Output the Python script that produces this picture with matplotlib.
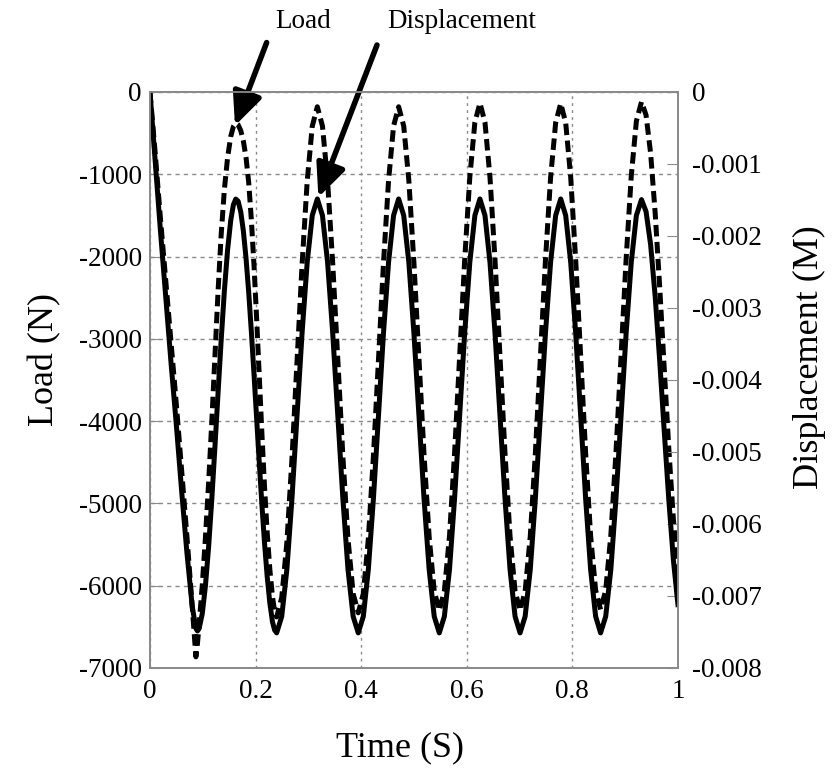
import matplotlib
matplotlib.use("Agg")
import matplotlib.pyplot as plt

plt.rcParams['font.family'] = ['Liberation Serif', 'DejaVu Serif']
plt.rcParams['axes.unicode_minus'] = False

# Time (S) - shared by both curves
time_s = [0, 0.01, 0.02, 0.03, 0.04, 0.05, 0.06, 0.07, 0.08, 0.087,
          0.090, 0.093, 0.099, 0.105, 0.111, 0.117, 0.123, 0.129, 0.135, 0.141,
          0.147, 0.153, 0.158, 0.1625, 0.167, 0.172, 0.177, 0.182, 0.187, 0.192,
          0.197, 0.202, 0.207, 0.212, 0.217, 0.222, 0.227, 0.232, 0.236, 0.240,
          0.2496, 0.2593, 0.2689, 0.2785, 0.2881, 0.2978, 0.3074, 0.317,
          0.3267, 0.3364, 0.3461, 0.3558, 0.3654, 0.3751, 0.3848, 0.3945,
          0.4041, 0.4136, 0.4232, 0.4328, 0.4423, 0.4519, 0.4614, 0.471,
          0.4806, 0.4903, 0.4999, 0.5095, 0.5191, 0.5288, 0.5384, 0.548,
          0.5576, 0.5673, 0.5769, 0.5865, 0.5961, 0.6058, 0.6154, 0.625,
          0.6345, 0.644, 0.6535, 0.663, 0.6725, 0.682, 0.6915, 0.701,
          0.7106, 0.7203, 0.7299, 0.7395, 0.7491, 0.7588, 0.7684, 0.778,
          0.7874, 0.7969, 0.8063, 0.8158, 0.8252, 0.8346, 0.8441, 0.8535,
          0.8632, 0.8729, 0.8826, 0.8923, 0.9019, 0.9116, 0.9213, 0.931,
          0.9396, 0.9483, 0.9569, 0.9655, 0.9741, 0.9828, 0.9914, 1.0]

# Load (N) - dashed, left axis
load_n = [0, -750, -1550, -2300, -3050, -3800, -4600, -5400, -6250, -6865,
          -6700, -6480, -6000, -5420, -4760, -4020, -3220, -2420, -1720, -1180,
          -800, -540, -420, -380, -400, -470, -600, -800, -1100, -1550,
          -2100, -2750, -3450, -4150, -4800, -5350, -5800, -6130, -6310, -6380,
          -6144, -5475, -4464, -3280, -2096, -1085, -416, -180,
          -414, -1078, -2080, -3255, -4430, -5432, -6096, -6330,
          -6096, -5432, -4430, -3255, -2080, -1078, -414, -180,
          -413, -1074, -2071, -3240, -4409, -5406, -6067, -6300,
          -6066, -5400, -4395, -3218, -2040, -1035, -369, -135,
          -369, -1035, -2040, -3218, -4395, -5400, -6066, -6300,
          -6066, -5401, -4397, -3220, -2043, -1039, -374, -140,
          -374, -1038, -2040, -3215, -4390, -5392, -6056, -6290,
          -6056, -5389, -4383, -3205, -2027, -1021, -354, -120,
          -281, -748, -1471, -2375, -3366, -4341, -5196, -5845]

# Displacement (M) - solid, right axis
disp_m = [0, -0.000971, -0.001943, -0.002857, -0.003771, -0.004629, -0.005543, -0.0064, -0.007143, -0.007451,
          -0.007486, -0.007455, -0.007249, -0.006865, -0.006327, -0.005671, -0.004937, -0.004175, -0.003431, -0.002755,
          -0.002194, -0.001782, -0.001567, -0.001488, -0.001517, -0.001667, -0.001937, -0.002314, -0.002782, -0.003325,
          -0.003915, -0.00453, -0.005144, -0.00573, -0.006267, -0.006728, -0.007096, -0.007357, -0.007473, -0.007513,
          -0.007284, -0.006633, -0.005651, -0.0045, -0.003348, -0.002366, -0.001715, -0.001486,
          -0.001715, -0.002366, -0.003348, -0.0045, -0.005651, -0.006633, -0.007284, -0.007513,
          -0.007284, -0.006633, -0.005651, -0.0045, -0.003348, -0.002366, -0.001715, -0.001486,
          -0.001715, -0.002366, -0.003348, -0.0045, -0.005651, -0.006633, -0.007284, -0.007513,
          -0.007284, -0.006633, -0.005651, -0.0045, -0.003348, -0.002366, -0.001715, -0.001486,
          -0.001715, -0.002366, -0.003348, -0.0045, -0.005651, -0.006633, -0.007284, -0.007513,
          -0.007284, -0.006633, -0.005651, -0.0045, -0.003348, -0.002366, -0.001715, -0.001486,
          -0.001715, -0.002366, -0.003348, -0.0045, -0.005651, -0.006633, -0.007284, -0.007513,
          -0.007284, -0.006633, -0.005651, -0.0045, -0.003348, -0.002366, -0.001715, -0.001495,
          -0.00166, -0.002124, -0.002842, -0.003738, -0.004717, -0.005674, -0.006503, -0.00712]

x_ticks = [0, 0.2, 0.4, 0.6, 0.8, 1]
x_labels = ['0', '0.2', '0.4', '0.6', '0.8', '1']
load_ticks = [0, -1000, -2000, -3000, -4000, -5000, -6000, -7000]
load_labels = ['0', '-1000', '-2000', '-3000', '-4000', '-5000', '-6000', '-7000']
disp_ticks = [0, -0.001, -0.002, -0.003, -0.004, -0.005, -0.006, -0.007, -0.008]
disp_labels = ['0', '-0.001', '-0.002', '-0.003', '-0.004', '-0.005', '-0.006', '-0.007', '-0.008']

fig = plt.figure(figsize=(8.35, 7.74), dpi=100)
ax = fig.add_axes([0.1796, 0.1370, 0.6323, 0.7442])
ax2 = ax.twinx()

ax.plot(time_s, load_n, color='black', lw=3.6, linestyle=(0, (2.3, 1.1)))
ax2.plot(time_s, disp_m, color='black', lw=3.6, solid_joinstyle='round')

ax.set_xlim(0, 1)
ax.set_ylim(-7000, 0)
ax2.set_ylim(-0.008, 0)

ax.set_xticks(x_ticks)
ax.set_xticklabels(x_labels)
ax.set_yticks(load_ticks)
ax.set_yticklabels(load_labels)
ax2.set_yticks(disp_ticks)
ax2.set_yticklabels(disp_labels)

grey = '#8a8a8a'
ax.xaxis.grid(True, color=grey, lw=1, linestyle=(0, (2, 3)))
ax.yaxis.grid(True, color=grey, lw=1, linestyle=(0, (3, 3)))
ax.set_axisbelow(True)

for a in (ax, ax2):
    for s in a.spines.values():
        s.set_color(grey)
        s.set_linewidth(1.3)

ax.tick_params(axis='x', length=0, pad=8, labelsize=19.5)
ax.tick_params(axis='y', direction='in', length=7, color=grey, pad=6, labelsize=19.5)
ax2.tick_params(axis='y', direction='in', length=8, color=grey, pad=10, labelsize=19.5)

fig.text(0.479, 0.034, 'Time (S)', ha='center', va='center', fontsize=26)
fig.text(0.054, 0.535, 'Load (N)', ha='center', va='center', rotation=90, fontsize=26)
fig.text(0.970, 0.539, 'Displacement (M)', ha='center', va='center', rotation=90, fontsize=26)

# callouts
fig.text(0.363, 0.972, 'Load', ha='center', va='center', fontsize=19.5)
fig.text(0.553, 0.972, 'Displacement', ha='center', va='center', fontsize=19.5)
arrow = dict(arrowstyle='-|>,head_length=0.8,head_width=0.36', color='black',
             lw=4, mutation_scale=25, shrinkA=0, shrinkB=0)
ax.annotate('', xy=(0.161, -410), xytext=(0.221, 600), arrowprops=arrow,
            annotation_clip=False)
ax.annotate('', xy=(0.319, -1280), xytext=(0.430, 570), arrowprops=arrow,
            annotation_clip=False)

fig.savefig('out.png', dpi=100)
